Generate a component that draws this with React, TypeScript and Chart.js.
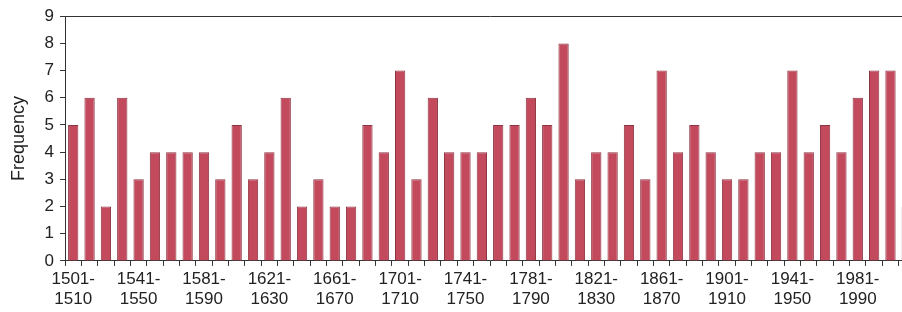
import React, { useEffect, useRef } from "react";
import { Chart, registerables } from "chart.js";

Chart.register(...registerables);

const decades: string[] = [
  "1501-1510", "1511-1520", "1521-1530", "1531-1540", "1541-1550", "1551-1560",
  "1561-1570", "1571-1580", "1581-1590", "1591-1600", "1601-1610", "1611-1620",
  "1621-1630", "1631-1640", "1641-1650", "1651-1660", "1661-1670", "1671-1680",
  "1681-1690", "1691-1700", "1701-1710", "1711-1720", "1721-1730", "1731-1740",
  "1741-1750", "1751-1760", "1761-1770", "1771-1780", "1781-1790", "1791-1800",
  "1801-1810", "1811-1820", "1821-1830", "1831-1840", "1841-1850", "1851-1860",
  "1861-1870", "1871-1880", "1881-1890", "1891-1900", "1901-1910", "1911-1920",
  "1921-1930", "1931-1940", "1941-1950", "1951-1960", "1961-1970", "1971-1980",
  "1981-1990", "1991-2000", "2001-2010", "2011-2020",
];

const frequency: number[] = [
  5, 6, 2, 6, 3, 4, 4, 4, 4, 3, 5, 3, 4, 6, 2, 3, 2, 2, 5, 4, 7, 3, 6, 4, 4, 4,
  5, 5, 6, 5, 8, 3, 4, 4, 5, 3, 7, 4, 5, 4, 3, 3, 4, 4, 7, 4, 5, 4, 6, 7, 7, 2,
];

const yTicks = { min: 0, max: 9, step: 1 };
const yTitle = "Frequency";

const FONT = "'Liberation Sans', Arial, sans-serif";
const TEXT = "#222222";
const AXIS = "#333333";

export default function App() {
  const ref = useRef<HTMLCanvasElement | null>(null);

  useEffect(() => {
    if (!ref.current) return;
    const chart = new Chart(ref.current, {
      type: "bar",
      data: {
        labels: decades,
        datasets: [
          {
            data: frequency,
            backgroundColor: "#C24A5C",
            borderColor: "#8E3343",
            borderWidth: 1,
            barPercentage: 0.63,
            categoryPercentage: 1,
          },
        ],
      },
      options: {
        animation: false,
        responsive: true,
        maintainAspectRatio: false,
        layout: { padding: { top: 5, left: 8, right: 20, bottom: 0 } },
        plugins: { legend: { display: false }, tooltip: { enabled: false } },
        scales: {
          x: {
            offset: true,
            grid: {
              offset: true,
              drawOnChartArea: false,
              tickLength: 5,
              tickColor: AXIS,
            },
            border: { color: AXIS, width: 1 },
            ticks: {
              autoSkip: false,
              maxRotation: 0,
              minRotation: 0,
              padding: 3,
              color: TEXT,
              font: { family: FONT, size: 17, lineHeight: 1.18 },
              callback: (_v: any, i: number) =>
                i % 4 === 0 ? [decades[i].slice(0, 5), decades[i].slice(5)] : "",
            },
          },
          y: {
            min: yTicks.min,
            max: yTicks.max,
            grid: {
              color: (ctx: any) =>
                ctx.tick && ctx.tick.value === yTicks.max ? AXIS : "rgba(0,0,0,0)",
              tickColor: AXIS,
              tickLength: 5,
            },
            border: { color: AXIS, width: 1 },
            ticks: {
              stepSize: yTicks.step,
              padding: 6,
              color: TEXT,
              font: { family: FONT, size: 17 },
            },
            title: {
              display: true,
              text: yTitle,
              color: TEXT,
              font: { family: FONT, size: 18 },
              padding: { top: 0, bottom: 9 },
            },
          },
        },
      },
    });
    return () => chart.destroy();
  }, []);

  return (
    <div
      style={{
        position: "fixed",
        left: 0,
        top: 0,
        width: 902,
        height: 312,
        overflow: "hidden",
        background: "#fff",
      }}
    >
      <div style={{ position: "relative", width: 935, height: 312 }}>
        <canvas ref={ref} />
      </div>
    </div>
  );
}
